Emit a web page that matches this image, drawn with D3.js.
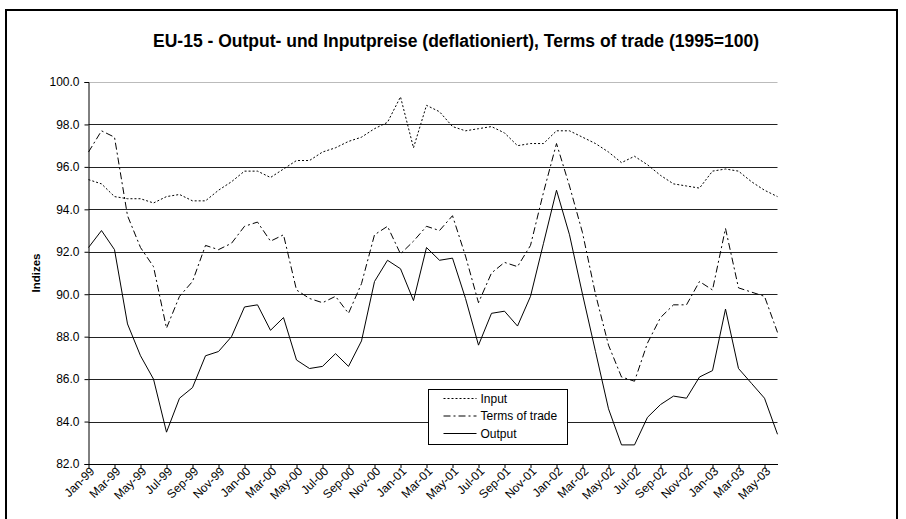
<!DOCTYPE html>
<html>
<head>
<meta charset="utf-8">
<script src="https://cdn.jsdelivr.net/npm/d3@7"></script>
<style>
  body { margin: 0; background: #fff; }
  svg text { font-family: "Liberation Sans", Arial, sans-serif; fill: #000; }
</style>
</head>
<body>
<div id="chart"></div>
<script>
let months = [
  "Jan-99","Feb-99","Mar-99","Apr-99","May-99","Jun-99","Jul-99","Aug-99","Sep-99","Oct-99","Nov-99","Dec-99",
  "Jan-00","Feb-00","Mar-00","Apr-00","May-00","Jun-00","Jul-00","Aug-00","Sep-00","Oct-00","Nov-00","Dec-00",
  "Jan-01","Feb-01","Mar-01","Apr-01","May-01","Jun-01","Jul-01","Aug-01","Sep-01","Oct-01","Nov-01","Dec-01",
  "Jan-02","Feb-02","Mar-02","Apr-02","May-02","Jun-02","Jul-02","Aug-02","Sep-02","Oct-02","Nov-02","Dec-02",
  "Jan-03","Feb-03","Mar-03","Apr-03","May-03","Jun-03"
];

let input = [
  95.4, 95.2, 94.6, 94.5, 94.5, 94.3, 94.6, 94.7, 94.4, 94.4, 94.9, 95.3,
  95.8, 95.8, 95.5, 95.9, 96.3, 96.3, 96.7, 96.9, 97.2, 97.4, 97.8, 98.1,
  99.3, 96.9, 98.9, 98.6, 97.9, 97.7, 97.8, 97.9, 97.6, 97.0, 97.1, 97.1,
  97.7, 97.7, 97.4, 97.1, 96.7, 96.2, 96.5, 96.1, 95.6, 95.2, 95.1, 95.0,
  95.8, 95.9, 95.8, 95.3, 94.9, 94.6
];

let termsOfTrade = [
  96.7, 97.7, 97.4, 93.7, 92.2, 91.3, 88.4, 89.9, 90.6, 92.3, 92.1, 92.4,
  93.2, 93.4, 92.5, 92.8, 90.2, 89.8, 89.6, 89.9, 89.1, 90.5, 92.8, 93.2,
  91.9, 92.5, 93.2, 93.0, 93.7, 91.8, 89.6, 91.0, 91.5, 91.3, 92.3, 94.8,
  97.1, 95.1, 92.9, 90.0, 87.6, 86.1, 85.9, 87.7, 88.9, 89.5, 89.5, 90.6,
  90.2, 93.1, 90.3, 90.1, 89.9, 88.2
];

let output = [
  92.2, 93.0, 92.1, 88.6, 87.1, 86.0, 83.5, 85.1, 85.6, 87.1, 87.3, 88.0,
  89.4, 89.5, 88.3, 88.9, 86.9, 86.5, 86.6, 87.2, 86.6, 87.8, 90.6, 91.6,
  91.2, 89.7, 92.2, 91.6, 91.7, 89.8, 87.6, 89.1, 89.2, 88.5, 89.9, 92.4,
  94.9, 92.8, 90.0, 87.3, 84.6, 82.9, 82.9, 84.2, 84.8, 85.2, 85.1, 86.1,
  86.4, 89.3, 86.5, 85.8, 85.1, 83.4
];

let yTicks = [82, 84, 86, 88, 90, 92, 94, 96, 98, 100];

let seriesNames = ["Input", "Terms of trade", "Output"];
let seriesDash = ["2,2", "7,3,2,3", null];
let seriesData = [input, termsOfTrade, output];

let W = 906, H = 519;
let margin = {top: 82, bottom: 55, left: 88.5, right: 128.5};

let svg = d3.select("#chart").append("svg")
  .attr("width", W)
  .attr("height", H);

svg.append("rect")
  .attr("width", W).attr("height", H).attr("fill", "#fff");

// outer chart frame (bottom edge falls outside the picture)
svg.append("rect")
  .attr("x", 6).attr("y", 10)
  .attr("width", 891).attr("height", 530)
  .attr("fill", "none")
  .attr("stroke", "#000")
  .attr("stroke-width", 2);

let x = d3.scalePoint()
  .domain(months)
  .range([margin.left, W - margin.right]);

let y = d3.scaleLinear()
  .domain([82, 100])
  .range([H - margin.bottom, margin.top]);

// gridlines
svg.append("g")
  .selectAll("line")
  .data(yTicks.slice(1))
  .join("line")
  .attr("x1", margin.left)
  .attr("x2", W - margin.right)
  .attr("y1", d => Math.round(y(d)) + 0.5)
  .attr("y2", d => Math.round(y(d)) + 0.5)
  .attr("stroke", d => d == 100 ? "#bbb" : "#222")
  .attr("stroke-width", 1);

// y axis
let yAxis = svg.append("g")
  .attr("transform", `translate(${margin.left},0)`)
  .call(d3.axisLeft(y).tickValues(yTicks).tickFormat(d3.format(".1f")).tickSize(4).tickPadding(5));
yAxis.select(".domain").attr("stroke", "#000");
yAxis.selectAll("text").attr("font-size", 12);

// x axis
let xAxis = svg.append("g")
  .attr("transform", `translate(0,${H - margin.bottom})`)
  .call(d3.axisBottom(x).tickValues(months.filter((d, i) => i % 2 == 0)).tickSize(4).tickSizeOuter(0));
xAxis.select(".domain").attr("stroke", "#000");
xAxis.selectAll("text")
  .attr("font-size", 12)
  .attr("text-anchor", "end")
  .attr("dx", "-0.1em")
  .attr("dy", "0.25em")
  .attr("transform", "rotate(-45)");

// series lines
let line = d3.line()
  .x((d, i) => x(months[i]))
  .y(d => y(d));

seriesData.forEach((s, k) => {
  svg.append("path")
    .datum(s)
    .attr("fill", "none")
    .attr("stroke", "#000")
    .attr("stroke-width", 1)
    .attr("stroke-dasharray", seriesDash[k])
    .attr("d", line);
});

// title
svg.append("text")
  .attr("x", 456)
  .attr("y", 47)
  .attr("text-anchor", "middle")
  .attr("font-size", 17.5)
  .attr("font-weight", "bold")
  .text("EU-15 - Output- und Inputpreise (deflationiert), Terms of trade (1995=100)");

// y label
svg.append("text")
  .attr("transform", "translate(40,273) rotate(-90)")
  .attr("text-anchor", "middle")
  .attr("font-size", 11.5)
  .attr("font-weight", "bold")
  .text("Indizes");

// legend
let legend = svg.append("g").attr("transform", "translate(428.5,389.5)");
legend.append("rect")
  .attr("width", 139).attr("height", 55)
  .attr("fill", "#fff")
  .attr("stroke", "#000");

seriesNames.forEach((name, k) => {
  let ly = 9 + k * 17.5;
  legend.append("line")
    .attr("x1", 15).attr("x2", 48)
    .attr("y1", ly).attr("y2", ly)
    .attr("stroke", "#000")
    .attr("stroke-width", 1)
    .attr("stroke-dasharray", seriesDash[k]);
  legend.append("text")
    .attr("x", 52)
    .attr("y", ly + 4)
    .attr("font-size", 12)
    .text(name);
});
</script>
</body>
</html>
